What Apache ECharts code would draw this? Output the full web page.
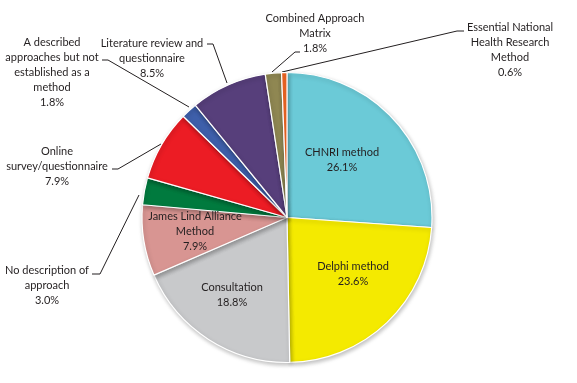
<!DOCTYPE html>
<html><head><meta charset="utf-8">
<script src="https://cdn.jsdelivr.net/npm/echarts@6/dist/echarts.min.js"></script>
<style>html,body{margin:0;padding:0;background:#fff}#c{width:577px;height:383px}</style>
</head><body><div id="c"></div>
<script>
const categories = ["CHNRI method","Delphi method","Consultation","James Lind Alliance\nMethod","No description of\napproach","Online\nsurvey/questionnaire","A described\napproaches but not\nestablished as a\nmethod","Literature review and\nquestionnaire","Combined Approach\nMatrix","Essential National\nHealth Research\nMethod"];
const values = [26.1, 23.6, 18.8, 7.9, 3.0, 7.9, 1.8, 8.5, 1.8, 0.6];
const colors = ["#6BCAD7","#F4EA00","#C8C9CB","#D89592","#007A3E","#EC1C24","#3E5FAA","#573F7B","#8F8752","#F26724"];
const inside = [true,true,true,true,false,false,false,false,false,false];
// label centres (text) and leader lines
const labelPos = [[342,160],[353,274],[232,295],[195,231],[47,285],[57,166],[52,72],[152,58],[315,33],[510,50]];
const leaders = [null,null,null,null,
 [[139,195],[100,274],[92,274]],
 [[161,144],[118,169],[112,169]],
 [[189,107],[108,60],[102,60]],
 [[227,83],[213,44],[207,44]],
 [[272,72],[295,52],[300,52]],
 [[282,72],[457,31],[464,31]]];

const chart = echarts.init(document.getElementById('c'));
chart.setOption({
  animation:false,
  series:[{
    type:'pie',
    center:[287,217.5],
    radius:145,
    startAngle:90,
    clockwise:true,
    avoidLabelOverlap:false,
    itemStyle:{borderColor:'#fff',borderWidth:1.2,shadowBlur:4,shadowColor:'rgba(0,0,0,0.25)',shadowOffsetX:1,shadowOffsetY:2},
    label:{fontFamily:'Lato',fontSize:11,color:'#231F20',lineHeight:15,align:'center',
      formatter:p=>p.name+'\n'+p.value.toFixed(1)+'%'},
    labelLine:{lineStyle:{color:'#231F20',width:1},smooth:false},
    emphasis:{disabled:true},
    data: categories.map((c,i)=>({name:c,value:values[i],itemStyle:{color:colors[i]},
      label:{position: inside[i]?'inside':'outside'},
      labelLine:{show:!inside[i]}})),
    labelLayout:function(p){
      const i=p.dataIndex;
      const o={x:labelPos[i][0],y:labelPos[i][1],align:'center',verticalAlign:'middle'};
      if(leaders[i]) o.labelLinePoints=leaders[i];
      return o;
    }
  }]
});
</script></body></html>
